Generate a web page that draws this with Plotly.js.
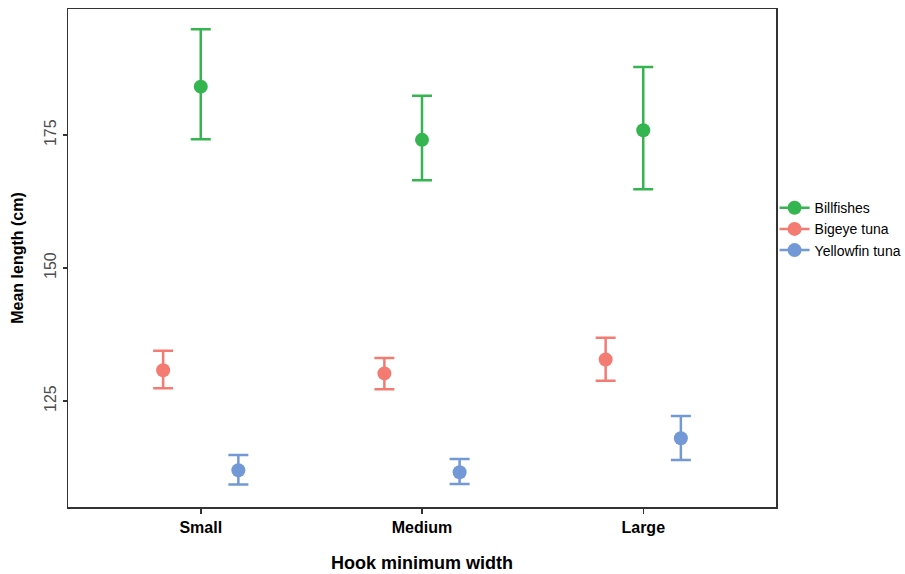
<!DOCTYPE html>
<html>
<head>
<meta charset="utf-8">
<script src="https://cdn.plot.ly/plotly-3.0.1.min.js"></script>
<style>html,body{margin:0;padding:0;background:#fff;}#chart{width:905px;height:574px;}</style>
</head>
<body>
<div id="chart"></div>
<script>
const categories = ["Small", "Medium", "Large"];
const seriesNames = ["Billfishes", "Bigeye tuna", "Yellowfin tuna"];
const billfishMean = [184.1, 174.1, 175.9];
const billfishUpper = [194.9, 182.4, 187.8];
const billfishLower = [174.2, 166.5, 164.8];
const bigeyeMean = [130.8, 130.2, 132.8];
const bigeyeUpper = [134.45, 133.1, 136.9];
const bigeyeLower = [127.4, 127.2, 128.8];
const yellowfinMean = [112.0, 111.6, 118.0];
const yellowfinUpper = [114.85, 114.1, 122.2];
const yellowfinLower = [109.3, 109.4, 113.9];
const yTicks = [125, 150, 175];

const colors = ["#35b550", "#f47b72", "#7398d6"];
const dodge = [0, -0.17, 0.17];
const means = [billfishMean, bigeyeMean, yellowfinMean];
const uppers = [billfishUpper, bigeyeUpper, yellowfinUpper];
const lowers = [billfishLower, bigeyeLower, yellowfinLower];

const traces = [];
seriesNames.forEach((name, s) => {
  traces.push({
    type: "scatter", mode: "markers", name: name, showlegend: false,
    x: categories.map((c, i) => i + dodge[s]),
    y: means[s],
    marker: {color: colors[s], size: 14},
    error_y: {
      type: "data", symmetric: false,
      array: means[s].map((m, i) => uppers[s][i] - m),
      arrayminus: means[s].map((m, i) => m - lowers[s][i]),
      color: colors[s], thickness: 2.5, width: 10
    },
    hoverinfo: "x+y"
  });
});
seriesNames.forEach((name, s) => {
  traces.push({
    type: "scatter", mode: "lines+markers", name: name,
    x: [null], y: [null],
    line: {color: colors[s], width: 2.5},
    marker: {color: colors[s], size: 14}
  });
});

const layout = {
  width: 905, height: 574,
  margin: {l: 68, r: 129, t: 9, b: 67, autoexpand: false},
  paper_bgcolor: "#fff", plot_bgcolor: "#fff",
  font: {family: "Liberation Sans, Arial, sans-serif", color: "#000"},
  xaxis: {
    range: [-0.6, 2.6], tickvals: [0, 1, 2],
    ticktext: categories.map(c => "<b>" + c + "</b>"),
    tickfont: {size: 16, color: "#000"},
    showgrid: false, zeroline: false,
    showline: true, mirror: true, linecolor: "#333", linewidth: 1.5,
    ticks: "outside", ticklen: 5, tickcolor: "#333", tickwidth: 1.5,
    title: {text: "<b>Hook minimum width</b>", font: {size: 18, color: "#000"}, standoff: 21}
  },
  yaxis: {
    range: [105.08, 198.7], tickvals: yTicks, ticktext: yTicks.map(String),
    tickangle: -90,
    tickfont: {size: 16, color: "#4d4d4d"},
    showgrid: false, zeroline: false,
    showline: true, mirror: true, linecolor: "#333", linewidth: 1.5,
    ticks: "outside", ticklen: 4, tickcolor: "#333", tickwidth: 1.5,
    title: {text: "<b>Mean length (cm)</b>", font: {size: 16, color: "#000"}, standoff: 14}
  },
  legend: {
    x: 0.998, xanchor: "left", y: 0.558, yanchor: "middle",
    font: {size: 14, color: "#000"}, bgcolor: "rgba(0,0,0,0)",
    itemwidth: 30, tracegroupgap: 4
  },
  showlegend: true
};

Plotly.newPlot("chart", traces, layout, {displayModeBar: false, staticPlot: true});
</script>
</body>
</html>
